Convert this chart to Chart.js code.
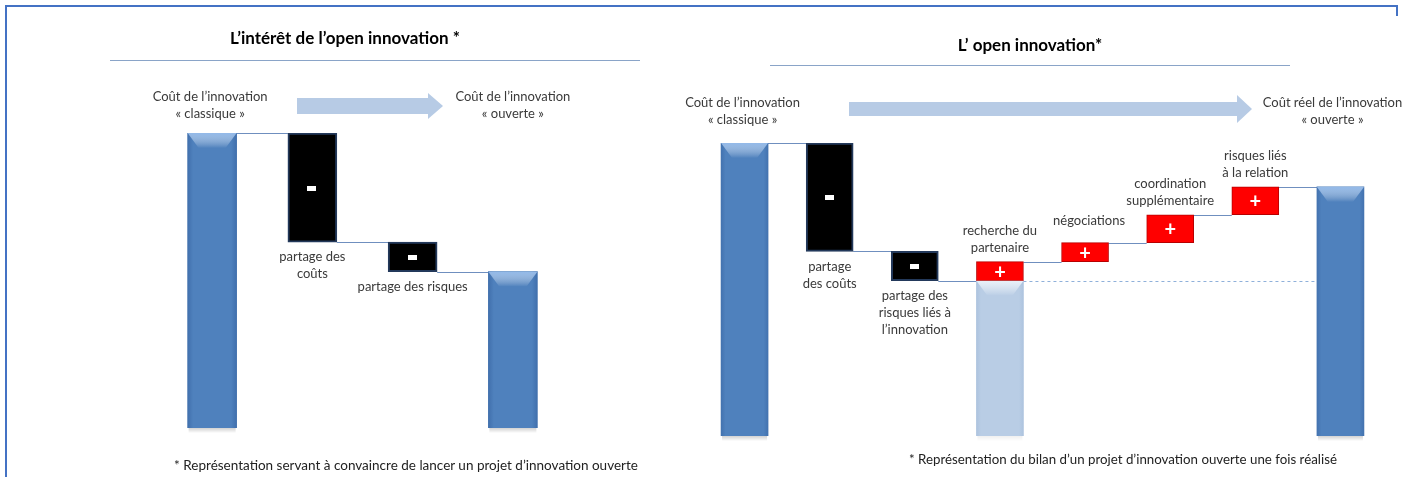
<!DOCTYPE html>
<html lang="fr">
<head>
<meta charset="utf-8">
<title>Open innovation</title>
<script src="https://cdn.jsdelivr.net/npm/chart.js@4.4.1/dist/chart.umd.min.js"></script>
<style>
  html, body { margin: 0; padding: 0; background: #fff; }
  body { width: 1410px; height: 477px; position: relative; overflow: hidden; font-family: Lato, "Open Sans", sans-serif; }
  canvas { position: absolute; left: 0; top: 0; }
  .frame { position: absolute; background: #4472c4; }
  .title { position: absolute; transform: translateX(-50%); font-weight: bold; font-size: 17px; color: #000; white-space: nowrap; z-index: 2; }
  .rule { position: absolute; height: 1px; background: #8aa4c8; }
  .note { position: absolute; transform: translateX(-50%); font-size: 13.5px; color: #222; white-space: nowrap; z-index: 2; }
  .arrow { position: absolute; z-index: 1; }
  .arrow .shaft { position: absolute; left: 0; background: #b7cbe5; }
  .arrow .head { position: absolute; width: 0; height: 0; border-style: solid; border-color: transparent transparent transparent #b7cbe5; }
</style>
</head>
<body>
<!-- cadre -->
<div class="frame" style="left:5px;top:5px;width:1392px;height:2px"></div>
<div class="frame" style="left:5px;top:5px;width:2px;height:472px"></div>
<div class="frame" style="left:1396px;top:5px;width:2px;height:11px"></div>

<div class="title" style="left:345px;top:27px">L’intérêt de l’open innovation *</div>
<div class="rule" style="left:110px;top:60px;width:530px"></div>
<div class="title" style="left:1030px;top:34px">L’ open innovation*</div>
<div class="rule" style="left:770px;top:65px;width:520px"></div>

<!-- flèches -->
<div class="arrow" style="left:297px;top:93px">
  <div class="shaft" style="top:5px;width:131px;height:16px"></div>
  <div class="head" style="left:131px;top:0;border-width:13px 0 13px 15px"></div>
</div>
<div class="arrow" style="left:849px;top:95px">
  <div class="shaft" style="top:7px;width:388px;height:14px"></div>
  <div class="head" style="left:388px;top:0;border-width:14px 0 14px 15px"></div>
</div>

<canvas id="left" width="1410" height="477"></canvas>
<canvas id="right" width="1410" height="477"></canvas>

<div class="note" style="left:406px;top:457px">* Représentation servant à convaincre de lancer un projet d’innovation ouverte</div>
<div class="note" style="left:1123px;top:451px;font-size:13.3px">* Représentation du bilan d’un projet d’innovation ouverte une fois réalisé</div>

<script>
"use strict";

// ---- données ----
const leftCategories = [
  ["Coût de l’innovation", "« classique »"],
  ["partage des", "coûts"],
  ["partage des risques"],
  ["Coût de l’innovation", "« ouverte »"],
];
const leftValues = [100, -37, -10, 53];
const leftKinds = ["total", "delta", "delta", "total"];

const rightCategories = [
  ["Coût de l’innovation", "« classique »"],
  ["partage", "des coûts"],
  ["partage des", "risques liés à", "l’innovation"],
  ["recherche du", "partenaire"],
  ["négociations"],
  ["coordination", "supplémentaire"],
  ["risques liés", "à la relation"],
  ["Coût réel de l’innovation", "« ouverte »"],
];
const rightValues = [100, -37, -10, 6.5, 6.5, 9.5, 9.5, 85];
const rightKinds = ["total", "delta", "delta", "delta", "delta", "delta", "delta", "total"];
const rightPlanned = [null, null, null, 53, null, null, null, null];

// ---- helpers ----
const toRanges = (values, kinds) => {
  let level = 0;
  return values.map((v, i) => {
    if (kinds[i] === "total") {
      level = v;
      return [0, v];
    }
    const start = level;
    level += v;
    return [Math.min(start, level), Math.max(start, level)];
  });
};

const toLevels = (values, kinds) => {
  let level = 0;
  return values.map((v, i) => {
    level = kinds[i] === "total" ? v : level + v;
    return level;
  });
};

const barGradient = (context, dark, mid) => {
  const chart = context.chart;
  const { ctx, chartArea, scales } = chart;
  if (!chartArea) {
    return mid;
  }
  const xc = scales.x.getPixelForValue(context.dataIndex);
  const g = ctx.createLinearGradient(xc - 25, 0, xc + 25, 0);
  g.addColorStop(0, dark);
  g.addColorStop(0.12, mid);
  g.addColorStop(0.88, mid);
  g.addColorStop(1, dark);
  return g;
};

const waterfallPlugin = {
  id: "waterfall",
  beforeDatasetsDraw(chart, args, opts) {
    const ctx = chart.ctx;
    const meta = chart.getDatasetMeta(0);
    const y = chart.scales.y;
    ctx.save();
    ctx.strokeStyle = "#6f8fbf";
    ctx.lineWidth = 1;
    // lignes de liaison
    for (let i = 0; i < meta.data.length - 1; i++) {
      const a = meta.data[i];
      const b = meta.data[i + 1];
      const py = Math.round(y.getPixelForValue(opts.levels[i])) + 0.5;
      ctx.beginPath();
      ctx.moveTo(a.x + a.width / 2, py);
      ctx.lineTo(b.x - b.width / 2, py);
      ctx.stroke();
    }
    // ligne pointillée du coût prévu
    if (chart.data.datasets.length > 1) {
      const planned = chart.getDatasetMeta(1);
      const last = meta.data[meta.data.length - 1];
      planned.data.forEach((el, i) => {
        const v = chart.data.datasets[1].data[i];
        if (v == null) return;
        const py = Math.round(el.y) + 0.5;
        ctx.strokeStyle = "#8fb0da";
        ctx.setLineDash([3, 3]);
        ctx.beginPath();
        ctx.moveTo(el.x + el.width / 2, py);
        ctx.lineTo(last.x - last.width / 2, py);
        ctx.stroke();
      });
    }
    ctx.restore();
  },
  afterDatasetsDraw(chart, args, opts) {
    const ctx = chart.ctx;
    const bevel = (el, light, shadow) => {
      const l = el.x - el.width / 2;
      const r = el.x + el.width / 2;
      const top = Math.min(el.y, el.base);
      const bot = Math.max(el.y, el.base);
      const g = ctx.createLinearGradient(0, top, 0, top + 15);
      g.addColorStop(0, light);
      g.addColorStop(1, "rgba(255,255,255,0)");
      ctx.fillStyle = g;
      ctx.beginPath();
      ctx.moveTo(l, top);
      ctx.lineTo(r, top);
      ctx.lineTo(r - 11, top + 15);
      ctx.lineTo(l + 11, top + 15);
      ctx.closePath();
      ctx.fill();
      const s = ctx.createLinearGradient(0, bot, 0, bot + 5);
      s.addColorStop(0, shadow);
      s.addColorStop(1, "rgba(0,0,0,0)");
      ctx.fillStyle = s;
      ctx.fillRect(l + 1, bot, el.width - 2, 5);
    };
    ctx.save();
    // biseaux des barres totales
    const meta = chart.getDatasetMeta(0);
    meta.data.forEach((el, i) => {
      if (opts.kinds[i] === "total") bevel(el, "rgba(150,188,235,0.95)", "rgba(0,0,0,0.18)");
    });
    if (chart.data.datasets.length > 1) {
      chart.getDatasetMeta(1).data.forEach((el, i) => {
        if (chart.data.datasets[1].data[i] != null) bevel(el, "rgba(235,242,250,0.95)", "rgba(0,0,0,0.06)");
      });
    }
    // signes + / -
    ctx.fillStyle = "#fff";
    ctx.textAlign = "center";
    ctx.textBaseline = "middle";
    meta.data.forEach((el, i) => {
      if (opts.kinds[i] !== "delta") return;
      const v = opts.values[i];
      const cy = (el.y + el.base) / 2;
      if (v < 0) {
        ctx.fillRect(Math.round(el.x) - 5, Math.round(cy) - 2, 9, 5);
      } else {
        ctx.font = "bold 20px Lato, sans-serif";
        ctx.fillText("+", el.x, cy + 1);
      }
    });
    // libellés
    ctx.fillStyle = "#3a3a3a";
    ctx.font = "13px Lato, sans-serif";
    const lh = 17;
    meta.data.forEach((el, i) => {
      const lines = chart.data.labels[i];
      const place = opts.place[i];
      const x = el.x + (opts.dx[i] || 0);
      const top = Math.min(el.y, el.base);
      const bot = Math.max(el.y, el.base);
      let y0;
      if (place === "top") y0 = opts.headerY;
      else if (place === "below") y0 = bot + 15;
      else y0 = top - 14 - (lines.length - 1) * lh;
      y0 += opts.dy[i] || 0;
      lines.forEach((t, k) => ctx.fillText(t, x, y0 + k * lh));
    });
    ctx.restore();
  },
};

const colorFor = (kinds, values) => (context) => {
  const i = context.dataIndex;
  if (kinds[i] === "total") return barGradient(context, "#3f6eab", "#4f81bd");
  return values[i] < 0 ? "#000000" : "#ff0000";
};

const makeConfig = (labels, values, kinds, planned, layout, style) => {
  const datasets = [
    {
      label: "coût",
      data: toRanges(values, kinds),
      backgroundColor: colorFor(kinds, values),
      borderColor: (context) => {
        const i = context.dataIndex;
        if (kinds[i] === "total") return "rgba(0,0,0,0)";
        return values[i] < 0 ? "#23395b" : "#b80000";
      },
      borderWidth: (context) => (kinds[context.dataIndex] === "total" ? 0 : values[context.dataIndex] < 0 ? 2 : 1),
      borderSkipped: false,
      barThickness: style.barWidth,
      grouped: false,
    },
  ];
  if (planned) {
    datasets.push({
      label: "coût prévu",
      data: planned.map((v) => (v == null ? null : [0, v])),
      backgroundColor: (context) => barGradient(context, "#a9c0dc", "#b9cde5"),
      borderWidth: 0,
      barThickness: style.barWidth,
      grouped: false,
    });
  }
  return {
    type: "bar",
    data: { labels: labels, datasets: datasets },
    plugins: [waterfallPlugin],
    options: {
      responsive: false,
      animation: false,
      layout: { padding: layout },
      plugins: {
        legend: { display: false },
        tooltip: { enabled: false },
        waterfall: {
          levels: toLevels(values, kinds),
          kinds: kinds,
          values: values,
          place: style.place,
          dx: style.dx,
          dy: style.dy,
          headerY: style.headerY,
        },
      },
      scales: {
        x: { display: false, grid: { display: false }, offset: true },
        y: { display: false, min: 0, max: 100, grid: { display: false } },
      },
    },
  };
};

const leftChart = new Chart(
  document.getElementById("left").getContext("2d"),
  makeConfig(leftCategories, leftValues, leftKinds, null,
    { left: 162, right: 847, top: 133, bottom: 49 },
    {
      barWidth: 49,
      place: ["top", "below", "below", "top"],
      dx: [-2, 0, 0, 0],
      dy: [0, 0, 0, 0],
      headerY: 97,
    })
);

const rightChart = new Chart(
  document.getElementById("right").getContext("2d"),
  makeConfig(rightCategories, rightValues, rightKinds, rightPlanned,
    { left: 702, right: 27, top: 143, bottom: 41 },
    {
      barWidth: 47,
      place: ["top", "below", "below", "above", "above", "above", "above", "top"],
      dx: [-2, 0, 0, 0, 4, 0, 0, -8],
      dy: [0, 0, 0, 0, -8, 0, 0, 0],
      headerY: 103,
    })
);
</script>
</body>
</html>
